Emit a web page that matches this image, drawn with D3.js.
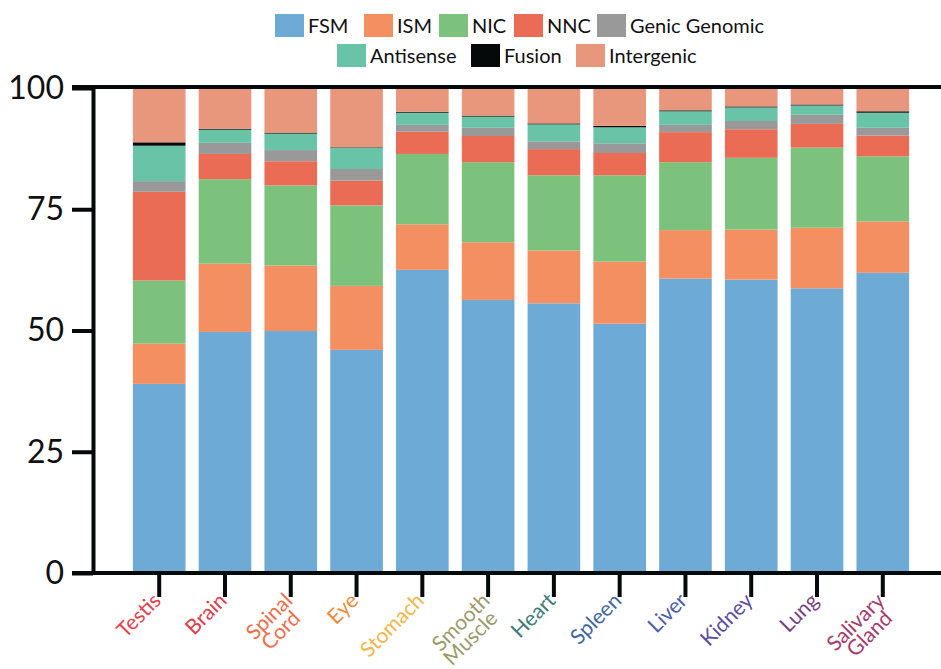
<!DOCTYPE html>
<html>
<head>
<meta charset="utf-8">
<script src="https://cdn.jsdelivr.net/npm/d3@7"></script>
<style>
  html, body { margin: 0; padding: 0; background: #fff; }
  svg { display: block; font-family: Lato, "Open Sans", sans-serif; }
</style>
</head>
<body>
<svg id="chart" width="941" height="669"></svg>
<script>
// ---- data ----
const tissues = ["Testis", "Brain", "Spinal Cord", "Eye", "Stomach", "Smooth Muscle", "Heart", "Spleen", "Liver", "Kidney", "Lung", "Salivary Gland"];
const categories = ["FSM", "ISM", "NIC", "NNC", "Genic Genomic", "Antisense", "Fusion", "Intergenic"];
const FSM        = [39.0, 49.7, 49.9, 46.0, 62.5, 56.3, 55.6, 51.4, 60.7, 60.5, 58.7, 61.9];
const ISM        = [ 8.3, 14.1, 13.5, 13.2,  9.4, 11.9, 10.9, 12.8, 10.0, 10.3, 12.5, 10.6];
const NIC        = [13.0, 17.4, 16.5, 16.6, 14.5, 16.5, 15.5, 17.8, 14.0, 14.8, 16.5, 13.4];
const NNC        = [18.3,  5.2,  5.0,  5.1,  4.6,  5.4,  5.4,  4.6,  6.2,  5.9,  4.9,  4.3];
const GenicGenomic = [2.2, 2.3,  2.3,  2.4,  1.4,  1.7,  1.6,  2.0,  1.5,  1.7,  1.9,  1.6];
const Antisense  = [ 7.3,  2.7,  3.4,  4.4,  2.5,  2.3,  3.5,  3.3,  2.8,  2.8,  1.9,  3.1];
const Fusion     = [ 0.7,  0.2,  0.2,  0.1,  0.2,  0.2,  0.2,  0.3,  0.2,  0.2,  0.2,  0.3];
const Intergenic = [11.2,  8.4,  9.2, 12.2,  4.9,  5.7,  7.3,  7.8,  4.6,  3.8,  3.4,  4.8];
const yTicks = [0, 25, 50, 75, 100];

const seriesColors = ["#6eaad6", "#f48f62", "#7cc27c", "#eb6c55", "#999999", "#69c3a6", "#060909", "#e8977c"];
const labelColors = ["#e5404f", "#e23b4b", "#ee6e4c", "#f08a3a", "#f4b548", "#9a9a6a", "#3f7c78", "#41679a", "#4c5cb0", "#5d4d9f", "#7a3f80", "#a63b6b"];

const seriesValues = [FSM, ISM, NIC, NNC, GenicGenomic, Antisense, Fusion, Intergenic];
const table = tissues.map((t, i) => {
  const row = { tissue: t };
  categories.forEach((c, j) => row[c] = seriesValues[j][i]);
  return row;
});

// ---- layout ----
const svg = d3.select("#chart");
const x = d3.scaleBand().domain(tissues).range([100, 942]).paddingInner(0.2).paddingOuter(0.5);
const y = d3.scaleLinear().domain([0, 100]).range([573, 88]);
const color = d3.scaleOrdinal().domain(categories).range(seriesColors);

const stacked = d3.stack().keys(categories)(table);

// bars
svg.append("g").selectAll("g.series").data(stacked).join("g")
  .attr("class", "series")
  .attr("fill", d => color(d.key))
  .selectAll("rect").data(d => d).join("rect")
  .attr("x", d => x(d.data.tissue))
  .attr("width", x.bandwidth())
  .attr("y", d => y(Math.min(d[1], 100)))
  .attr("height", d => Math.max(0, y(d[0]) - y(Math.min(d[1], 100))));

// top frame line
svg.append("line")
  .attr("x1", 72).attr("x2", 941)
  .attr("y1", y(100) - 1).attr("y2", y(100) - 1)
  .attr("stroke", "#060909").attr("stroke-width", 4);

// y axis
const yAxis = d3.axisLeft(y).tickValues(yTicks).tickSize(21).tickPadding(8).tickSizeOuter(0);
const yg = svg.append("g").attr("transform", "translate(93,0)").call(yAxis);
yg.select(".domain").attr("stroke", "#060909").attr("stroke-width", 4);
yg.selectAll(".tick line").attr("stroke", "#060909").attr("stroke-width", 4);
yg.selectAll(".tick text").attr("font-size", 32).attr("fill", "#111").attr("font-family", "Lato, 'Open Sans', sans-serif");

// bottom axis
svg.append("line")
  .attr("x1", 72).attr("x2", 941)
  .attr("y1", y(0)).attr("y2", y(0))
  .attr("stroke", "#060909").attr("stroke-width", 4);
const xAxis = d3.axisBottom(x).tickSize(24).tickSizeOuter(0).tickFormat("");
const xg = svg.append("g").attr("transform", `translate(0,${y(0)})`).call(xAxis);
xg.select(".domain").remove();
xg.selectAll(".tick line").attr("stroke", "#060909").attr("stroke-width", 4);

// x labels
const labels = svg.append("g");
tissues.forEach((t, i) => {
  const cx = x(t) + x.bandwidth() / 2 + 3;
  const cy = 602;
  const words = t.split(" ");
  const txt = labels.append("text")
    .attr("transform", `translate(${cx},${cy}) rotate(-45)`)
    .attr("text-anchor", "end")
    .attr("font-size", 21)
    .attr("fill", labelColors[i]);
  words.forEach((w, k) => {
    txt.append("tspan")
      .attr("x", k === 0 ? 0 : -7)
      .attr("dy", k === 0 ? 0 : 18)
      .text(w);
  });
});

// legend
const legendItems = [
  { key: "FSM", x: 275, y: 14 },
  { key: "ISM", x: 364, y: 14 },
  { key: "NIC", x: 439, y: 14 },
  { key: "NNC", x: 514, y: 14 },
  { key: "Genic Genomic", x: 597, y: 14 },
  { key: "Antisense", x: 337, y: 44 },
  { key: "Fusion", x: 471, y: 44 },
  { key: "Intergenic", x: 576, y: 44 }
];
const lg = svg.append("g");
legendItems.forEach(it => {
  lg.append("rect").attr("x", it.x).attr("y", it.y).attr("width", 29).attr("height", 23)
    .attr("fill", color(it.key));
  lg.append("text").attr("x", it.x + 33).attr("y", it.y + 19)
    .attr("font-size", 20).attr("fill", "#111").text(it.key);
});
</script>
</body>
</html>
